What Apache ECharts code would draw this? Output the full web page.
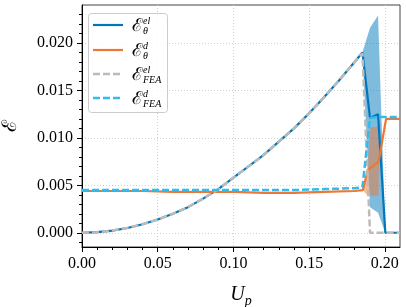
<!DOCTYPE html>
<html><head><meta charset="utf-8">
<script src="https://cdn.jsdelivr.net/npm/echarts@6/dist/echarts.min.js"></script>
<style>html,body{margin:0;padding:0;background:#fff}#c{width:406px;height:307px}</style>
</head><body><div id="c"></div>
<script>
// ---- data ----
const xEl = [0, 0.01, 0.02, 0.03, 0.04, 0.05, 0.06, 0.07, 0.08, 0.09, 0.10, 0.11, 0.12, 0.13, 0.14, 0.15, 0.16, 0.17, 0.18, 0.1852, 0.1902, 0.1955, 0.2003, 0.21];
const yEl = [0, 0.00006, 0.00023, 0.0005, 0.0009, 0.0014, 0.0020, 0.0027, 0.0036, 0.0046, 0.0058, 0.0070, 0.0082, 0.0096, 0.0110, 0.0126, 0.0143, 0.0161, 0.0180, 0.0190, 0.0121, 0.0125, 0.0, 0.0];

const xD = [0, 0.02, 0.04, 0.06, 0.08, 0.10, 0.12, 0.14, 0.16, 0.18, 0.1855, 0.1887, 0.1959, 0.2008, 0.21];
const yD = [0.0044, 0.0044, 0.0044, 0.0043, 0.0043, 0.0043, 0.0042, 0.0042, 0.0043, 0.0044, 0.0045, 0.0066, 0.0075, 0.0120, 0.0120];

const xElFea = [0, 0.01, 0.02, 0.03, 0.04, 0.05, 0.06, 0.07, 0.08, 0.09, 0.10, 0.11, 0.12, 0.13, 0.14, 0.15, 0.16, 0.17, 0.18, 0.1852, 0.1902, 0.21];
const yElFea = [0, 0.00006, 0.00023, 0.0005, 0.0009, 0.0014, 0.0020, 0.0027, 0.0036, 0.0046, 0.0058, 0.0070, 0.0082, 0.0096, 0.0110, 0.0126, 0.0143, 0.0161, 0.0180, 0.0189, 0.0, 0.0];

const xDFea = [0, 0.02, 0.04, 0.06, 0.08, 0.10, 0.12, 0.14, 0.16, 0.18, 0.1852, 0.1902, 0.1955, 0.21];
const yDFea = [0.0045, 0.0045, 0.0045, 0.0045, 0.0045, 0.0045, 0.0045, 0.0045, 0.0046, 0.0047, 0.0048, 0.0121, 0.0122, 0.0122];

// uncertainty bands
const bandElX = [0.1852, 0.1902, 0.1955, 0.2003];
const bandElLow = [0.0190, 0.0027, 0.0021, 0.0];
const bandElHigh = [0.0190, 0.0216, 0.0229, 0.0];

const bandDX = [0.1855, 0.1885, 0.1905, 0.1958, 0.1962];
const bandDLow = [0.0045, 0.0039, 0.0039, 0.0039, 0.0075];
const bandDHigh = [0.0045, 0.0070, 0.0111, 0.0112, 0.0075];

// tick values
const xMajor = [0, 0.05, 0.10, 0.15, 0.20];
const xMinor = [0, 0.01, 0.02, 0.03, 0.04, 0.05, 0.06, 0.07, 0.08, 0.09, 0.10, 0.11, 0.12, 0.13, 0.14, 0.15, 0.16, 0.17, 0.18, 0.19, 0.20];
const yMajor = [0, 0.005, 0.010, 0.015, 0.020];
const yMinor = [-0.001, 0, 0.001, 0.002, 0.003, 0.004, 0.005, 0.006, 0.007, 0.008, 0.009, 0.010, 0.011, 0.012, 0.013, 0.014, 0.015, 0.016, 0.017, 0.018, 0.019, 0.020, 0.021, 0.022, 0.023];

// ---- chart ----
const zip = (xs, ys) => xs.map((x, i) => [x, ys[i]]);
const C_BLUE = '#0077BB', C_ORANGE = '#EE7733', C_GREY = '#BBBBBB', C_CYAN = '#33BBEE';
const SERIF = 'Liberation Serif';

function bandSeries(xs, lo, hi, color, z) {
  return {
    type: 'custom', z: z, silent: true,
    data: xs.map((x, i) => [x, lo[i], hi[i]]),
    encode: { x: 0, y: [1, 2] },
    renderItem: function (params, api) {
      if (params.dataIndex !== 0) return null;
      const pts = [];
      for (let i = 0; i < xs.length; i++) pts.push(api.coord([xs[i], hi[i]]));
      for (let i = xs.length - 1; i >= 0; i--) pts.push(api.coord([xs[i], lo[i]]));
      return { type: 'polygon', shape: { points: pts }, style: { fill: color } };
    }
  };
}

const legendEntries = [
  { y: 25, color: C_BLUE, dash: null, w: 2.2, sup: 'el', sub: 'θ' },
  { y: 50, color: C_ORANGE, dash: null, w: 2.2, sup: 'd', sub: 'θ' },
  { y: 74, color: C_GREY, dash: [7, 3], w: 2.5, sup: 'el', sub: 'FEA' },
  { y: 98, color: C_CYAN, dash: [7, 3], w: 2.5, sup: 'd', sub: 'FEA' }
];
const legendGraphics = [{
  type: 'rect', shape: { x: 88.5, y: 13.5, width: 79, height: 99, r: 3 },
  style: { fill: 'rgba(255,255,255,0.85)', stroke: '#cccccc', lineWidth: 1 }, z: 100
}];
legendEntries.forEach(e => {
  legendGraphics.push({ type: 'line', shape: { x1: 93, y1: e.y, x2: 123, y2: e.y },
    style: { stroke: e.color, lineWidth: e.w, lineDash: e.dash }, z: 101 });
  legendGraphics.push({ type: 'text', x: 132, y: e.y + 1, z: 101,
    style: { text: 'ℰ', font: '18px "DejaVu Serif"', fill: '#000', textVerticalAlign: 'middle' } });
  legendGraphics.push({ type: 'text', x: 143, y: e.y - 4, z: 101,
    style: { text: e.sup, font: 'italic 10px "' + SERIF + '"', fill: '#000', textVerticalAlign: 'middle' } });
  legendGraphics.push({ type: 'text', x: 143, y: e.y + 6, z: 101,
    style: { text: e.sub, font: 'italic 10px "' + SERIF + '"', fill: '#000', textVerticalAlign: 'middle' } });
});

const chart = echarts.init(document.getElementById('c'), null, { renderer: 'canvas' });
chart.setOption({
  animation: false,
  backgroundColor: '#fff',
  grid: { left: 82, right: 6, top: 5, bottom: 60, show: true, borderColor: '#444', borderWidth: 1,
          containLabel: false, outerBoundsMode: 'none' },
  xAxis: [{
    type: 'value', min: 0, max: 0.21, position: 'bottom',
    axisLine: { show: true, onZero: false, lineStyle: { color: '#000', width: 1 } },
    axisTick: { show: true, inside: false, length: 5, customValues: xMajor, lineStyle: { color: '#000' } },
    axisLabel: { customValues: xMajor, formatter: v => v.toFixed(2), fontFamily: SERIF, fontSize: 16, color: '#000', margin: 9 },
    splitLine: { show: true, lineStyle: { color: '#d0d0d0', type: [1, 2], width: 1 } },
    name: '{u|U}{p|p}', nameLocation: 'middle', nameGap: 35,
    nameTextStyle: { rich: { u: { fontFamily: SERIF, fontStyle: 'italic', fontSize: 20, color: '#000' },
                             p: { fontFamily: SERIF, fontStyle: 'italic', fontSize: 14, color: '#000', padding: [12, 0, 0, 0] } } }
  }, {
    type: 'value', min: 0, max: 0.21, position: 'bottom', gridIndex: 0,
    axisLine: { show: false, onZero: false },
    axisTick: { show: true, inside: false, length: 3, customValues: xMinor, lineStyle: { color: '#000' } },
    axisLabel: { show: false }, splitLine: { show: false }
  }],
  yAxis: [{
    type: 'value', min: -0.0015, max: 0.024, position: 'left',
    axisLine: { show: true, onZero: false, lineStyle: { color: '#000', width: 1 } },
    axisTick: { show: true, inside: false, length: 5, customValues: yMajor, lineStyle: { color: '#000' } },
    axisLabel: { customValues: yMajor, formatter: v => v.toFixed(3), fontFamily: SERIF, fontSize: 16, color: '#000', margin: 9 },
    splitLine: { show: true, lineStyle: { color: '#d0d0d0', type: [1, 2], width: 1 } },
    name: 'ℰ', nameLocation: 'middle', nameGap: 61, nameRotate: 90,
    nameTextStyle: { fontFamily: 'DejaVu Serif', fontSize: 20, color: '#000' }
  }, {
    type: 'value', min: -0.0015, max: 0.024, position: 'left', gridIndex: 0,
    axisLine: { show: false, onZero: false },
    axisTick: { show: true, inside: false, length: 3, customValues: yMinor, lineStyle: { color: '#000' } },
    axisLabel: { show: false }, splitLine: { show: false }
  }],
  series: [
    bandSeries(bandElX, bandElLow, bandElHigh, 'rgba(0,119,187,0.5)', 1),
    bandSeries(bandDX, bandDLow, bandDHigh, 'rgba(238,119,51,0.5)', 2),
    { name: 'el', type: 'line', data: zip(xEl, yEl), showSymbol: false, symbol: 'none', z: 3,
      lineStyle: { color: C_BLUE, width: 2.2 } },
    { name: 'd', type: 'line', data: zip(xD, yD), showSymbol: false, symbol: 'none', z: 4,
      lineStyle: { color: C_ORANGE, width: 2.2 } },
    { name: 'elFEA', type: 'line', data: zip(xElFea, yElFea), showSymbol: false, symbol: 'none', z: 5,
      lineStyle: { color: C_GREY, width: 2.5, type: [7, 3] } },
    { name: 'dFEA', type: 'line', data: zip(xDFea, yDFea), showSymbol: false, symbol: 'none', z: 6,
      lineStyle: { color: C_CYAN, width: 2.5, type: [7, 3] } }
  ],
  graphic: legendGraphics
});
</script>
</body></html>
